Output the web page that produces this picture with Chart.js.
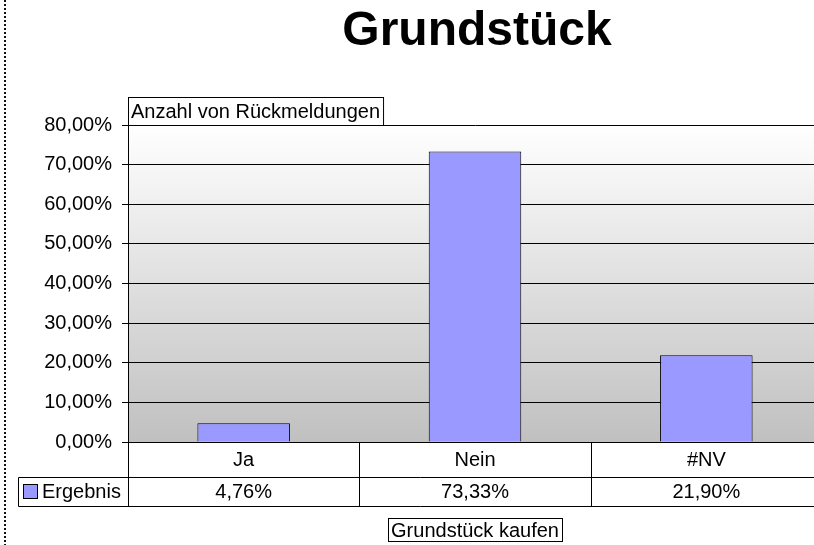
<!DOCTYPE html>
<html>
<head>
<meta charset="utf-8">
<script src="https://cdn.jsdelivr.net/npm/chart.js@4/dist/chart.umd.min.js"></script>
<style>
  html, body { margin: 0; padding: 0; background: #fff; overflow: hidden; }
  #wrap { width: 814px; height: 545px; overflow: hidden; position: relative; }
  #wrap canvas { position: absolute; left: 0; top: 0; }
</style>
</head>
<body>
<div id="wrap"><canvas id="chart" width="830" height="545" style="width:830px;height:545px"></canvas></div>
<script>
// --- daten ---
const categories = ["Ja", "Nein", "#NV"];
const seriesName = "Ergebnis";
const values = [4.76, 73.33, 21.90];
const yTicks = [0, 10, 20, 30, 40, 50, 60, 70, 80];

const titleText = "Grundstück";
const yTitle = "Anzahl von Rückmeldungen";
const xTitle = "Grundstück kaufen";

const FONT = "'Liberation Sans', Arial, sans-serif";
const fmt = (v) => v.toFixed(2).replace(".", ",") + "%";

// --- hintergrund, titel, tabelle ---
const decorPlugin = {
  id: "decor",
  beforeDraw(chart) {
    const { ctx, chartArea: a } = chart;
    const grad = ctx.createLinearGradient(0, a.top, 0, a.bottom);
    grad.addColorStop(0, "#ffffff");
    grad.addColorStop(1, "#c0c0c0");
    ctx.save();
    ctx.fillStyle = grad;
    ctx.fillRect(a.left, a.top, a.right - a.left, a.bottom - a.top);
    ctx.restore();
  },
  afterDraw(chart) {
    const { ctx, chartArea: a } = chart;
    const x = chart.scales.x;
    const mid = (a.left + a.right) / 2;
    ctx.save();

    // punktlinie links
    ctx.strokeStyle = "#111";
    ctx.lineWidth = 2;
    ctx.setLineDash([2, 2]);
    ctx.beginPath();
    ctx.moveTo(5, 0);
    ctx.lineTo(5, 545);
    ctx.stroke();
    ctx.setLineDash([]);
    ctx.lineWidth = 1;

    // titel
    ctx.fillStyle = "#000";
    ctx.font = "bold 48px " + FONT;
    ctx.textAlign = "center";
    ctx.textBaseline = "alphabetic";
    ctx.fillText(titleText, mid + 2, 45);

    // y titel box
    ctx.font = "20px " + FONT;
    ctx.textAlign = "left";
    ctx.textBaseline = "middle";
    const tw = ctx.measureText(yTitle).width;
    ctx.fillStyle = "#fff";
    ctx.fillRect(a.left + 0.5, 97.5, tw + 6, 28);
    ctx.strokeStyle = "#000";
    ctx.strokeRect(a.left + 0.5, 97.5, tw + 6, 28);
    ctx.fillStyle = "#000";
    ctx.fillText(yTitle, a.left + 3, 112);

    // datentabelle
    const row1 = a.bottom, row2 = 477, row3 = 506;
    const colW = x.width / categories.length;
    ctx.strokeStyle = "#000";
    ctx.beginPath();
    ctx.moveTo(18.5, row2 + 0.5); ctx.lineTo(a.right, row2 + 0.5);
    ctx.moveTo(18.5, row3 + 0.5); ctx.lineTo(a.right, row3 + 0.5);
    ctx.moveTo(18.5, row2 + 0.5); ctx.lineTo(18.5, row3 + 0.5);
    for (let i = 0; i <= categories.length; i++) {
      const cx = Math.round(a.left + colW * i) + 0.5;
      ctx.moveTo(cx, row1); ctx.lineTo(cx, row3 + 0.5);
    }
    ctx.stroke();

    ctx.textAlign = "center";
    ctx.textBaseline = "middle";
    ctx.fillStyle = "#000";
    categories.forEach((c, i) => {
      const cx = x.getPixelForValue(i);
      ctx.fillText(c, cx, (row1 + row2) / 2 + 1);
      ctx.fillText(fmt(values[i]), cx, (row2 + row3) / 2 + 1);
    });

    // legende in tabelle
    ctx.fillStyle = "#9999ff";
    ctx.fillRect(23.5, 484.5, 14, 14);
    ctx.strokeStyle = "#000";
    ctx.strokeRect(23.5, 484.5, 14, 14);
    ctx.fillStyle = "#000";
    ctx.textAlign = "left";
    ctx.fillText(seriesName, 42, (row2 + row3) / 2 + 1);

    // x titel box
    ctx.textAlign = "center";
    const xw = ctx.measureText(xTitle).width;
    ctx.strokeRect(Math.round(mid - xw / 2 - 3) + 0.5, 518.5, Math.round(xw + 6), 23);
    ctx.fillText(xTitle, mid, 531);

    ctx.restore();
  },
};

new Chart(document.getElementById("chart"), {
  type: "bar",
  data: {
    labels: categories,
    datasets: [
      {
        label: seriesName,
        data: values,
        backgroundColor: "#9999ff",
        borderColor: "#000",
        borderWidth: 1,
        categoryPercentage: 1,
        barPercentage: 0.4,
      },
    ],
  },
  plugins: [decorPlugin],
  options: {
    responsive: false,
    animation: false,
    layout: { padding: { top: 125, right: 8, bottom: 103, left: 0 } },
    plugins: { legend: { display: false }, tooltip: { enabled: false }, title: { display: false } },
    scales: {
      x: {
        ticks: { display: false },
        grid: { display: false, drawTicks: false },
        border: { display: true, color: "#000" },
        afterFit: (s) => { s.height = 0; },
      },
      y: {
        min: 0,
        max: 80,
        afterFit: (s) => { s.width = 128; },
        afterBuildTicks: (s) => { s.ticks = yTicks.map((v) => ({ value: v })); },
        ticks: {
          padding: 10,
          color: "#000",
          font: { family: FONT, size: 20 },
          callback: (v) => fmt(v),
        },
        grid: { color: "#000", lineWidth: 1, tickLength: 6, drawTicks: true },
        border: { display: true, color: "#000" },
      },
    },
  },
});
</script>
</body>
</html>
